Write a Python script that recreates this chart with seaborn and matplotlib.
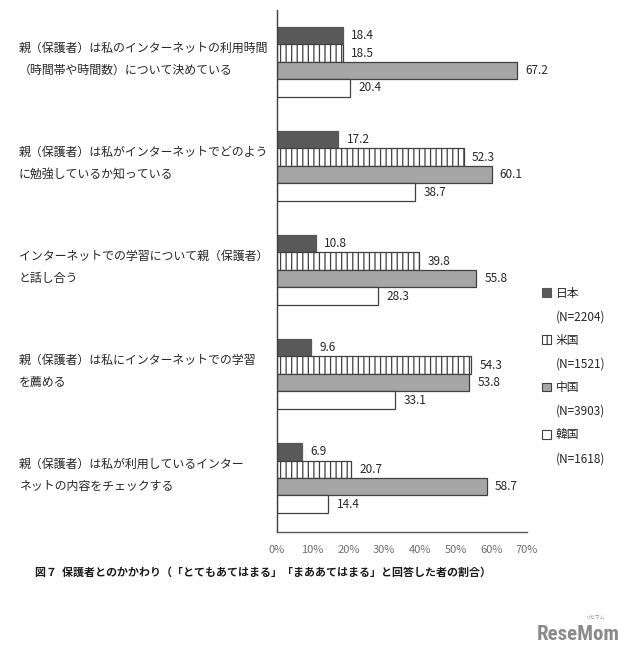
import pandas as pd
import numpy as np
import matplotlib
matplotlib.use("Agg")
import matplotlib.pyplot as plt
import matplotlib.patches as mpatches
import matplotlib.transforms as mtransforms
import seaborn as sns

# items (two-line labels as in the source figure)
items = [
    "親（保護者）は私のインターネットの利用時間\n（時間帯や時間数）について決めている",
    "親（保護者）は私がインターネットでどのよう\nに勉強しているか知っている",
    "インターネットでの学習について親（保護者）\nと話し合う",
    "親（保護者）は私にインターネットでの学習\nを薦める",
    "親（保護者）は私が利用しているインター\nネットの内容をチェックする",
]
countries = ["日本", "米国", "中国", "韓国"]
sample_n = ["(N=2204)", "(N=1521)", "(N=3903)", "(N=1618)"]

japan = [18.4, 17.2, 10.8, 9.6, 6.9]
usa = [18.5, 52.3, 39.8, 54.3, 20.7]
china = [67.2, 60.1, 55.8, 53.8, 58.7]
korea = [20.4, 38.7, 28.3, 33.1, 14.4]

x_ticks = [0, 10, 20, 30, 40, 50, 60, 70]
caption = "図７  保護者とのかかわり（「とてもあてはまる」「まああてはまる」と回答した者の割合）"

df = pd.DataFrame({
    "item": items * 4,
    "country": [c for c in countries for _ in items],
    "value": japan + usa + china + korea,
})

sns.set_style("white")
plt.rcParams['font.family'] = ['Noto Sans CJK JP', 'DejaVu Sans']
plt.rcParams['hatch.linewidth'] = 0.9

fills = ["#595959", "#ffffff", "#a6a6a6", "#ffffff"]
edges = ["#595959", "#404040", "#404040", "#404040"]
hatches = [None, "|||", None, None]

fig = plt.figure(figsize=(6.34, 6.56), dpi=100)
ax = fig.add_axes([0.437, 0.189, 0.394, 0.796])

sns.barplot(data=df, x="value", y="item", hue="country", hue_order=countries,
            palette=fills, orient="h", width=0.67, ax=ax, legend=False,
            edgecolor="#404040", linewidth=0.9)

for i, cont in enumerate(ax.containers):
    for bar in cont:
        bar.set_facecolor(fills[i])
        bar.set_edgecolor(edges[i])
        if hatches[i]:
            bar.set_hatch(hatches[i])
    ax.bar_label(cont, fmt="%.1f", padding=6, fontsize=8.5, color="#262626")

ax.set_xlim(0, 70)
ax.set_ylim(4.52, -0.5)
ax.set_xticks(x_ticks)
ax.set_xticklabels([f"{t}%" for t in x_ticks], fontsize=8, color="#6e6e6e")
ax.set_xlabel("")
ax.set_ylabel("")
ax.tick_params(axis="x", length=0, pad=9)
ax.tick_params(axis="y", length=0, pad=186)
# labels sit a little above the group centre in the original
shift_up = mtransforms.ScaledTranslation(0, 6 / 72, fig.dpi_scale_trans)
for lab in ax.get_yticklabels():
    lab.set_horizontalalignment("left")
    lab.set_multialignment("left")
    lab.set_fontsize(8.6)
    lab.set_linespacing(1.9)
    lab.set_color("#262626")
    lab.set_transform(lab.get_transform() + shift_up)

sns.despine(ax=ax, top=True, right=True)
ax.spines["left"].set_color("#404040")
ax.spines["bottom"].set_color("#595959")
ax.spines["left"].set_linewidth(1)
ax.spines["bottom"].set_linewidth(1)

# legend: square + country, then N on its own row
handles, labels = [], []
for i, c in enumerate(countries):
    handles.append(mpatches.Patch(facecolor=fills[i], edgecolor=edges[i],
                                  hatch=hatches[i], linewidth=0.8))
    labels.append(c)
    handles.append(mpatches.Patch(facecolor="none", edgecolor="none"))
    labels.append(sample_n[i])
fig.legend(handles, labels, loc="upper left", bbox_to_anchor=(0.846, 0.572),
           frameon=False, fontsize=8.5, handlelength=0.75, handleheight=0.75,
           handletextpad=0.4, labelspacing=0.9, borderpad=0)

fig.text(0.055, 0.128, caption, fontsize=7.9, fontweight="bold",
         ha="left", va="center", color="#1a1a1a")

# watermark
fig.text(0.977, 0.018, "ReseMom", fontsize=15, fontweight="bold",
         family=["Roboto Condensed", "Roboto", "DejaVu Sans"],
         color="#8a8a8a", ha="right", va="bottom")
fig.text(0.955, 0.056, "リセマム", fontsize=3.5, color="#8a8a8a",
         ha="right", va="bottom")

fig.savefig("out.png", dpi=100)
